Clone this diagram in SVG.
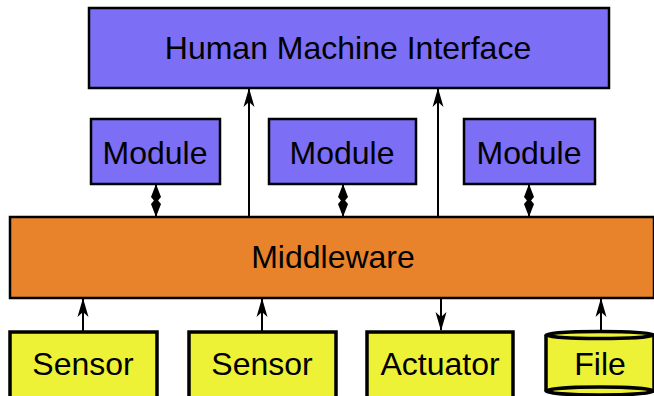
<svg xmlns="http://www.w3.org/2000/svg" width="654" height="396" viewBox="0 0 654 396">
<defs>
<style>
.box{stroke:#000;stroke-width:2.5}
.hmi{fill:#7C6EF5}
.mw{fill:#E8832B}
.dev{fill:#EEF236;stroke:#000;stroke-width:3.5}
.lbl{font-family:"Liberation Sans",Arial,sans-serif;font-size:32px;fill:#000;text-anchor:middle}
.conn{stroke:#000;stroke-width:2;fill:none}
</style>
<marker id="ah" viewBox="0 0 19 12" refX="18" refY="6" markerWidth="19" markerHeight="12" markerUnits="userSpaceOnUse" orient="auto-start-reverse">
<path d="M0,0.5 L19,6 L0,11.5 L5,6 Z" fill="#000"/>
</marker>
<marker id="dh" viewBox="0 0 19 10" refX="18" refY="5" markerWidth="19" markerHeight="10" markerUnits="userSpaceOnUse" orient="auto-start-reverse">
<path d="M0,5 L6,0 L19,5 L6,10 Z" fill="#000"/>
</marker>
</defs>
<rect width="654" height="396" fill="#fff"/>
<g id="hmi">
<rect class="box hmi" x="89" y="8" width="520" height="80"/>
<text class="lbl" x="348" y="59">Human Machine Interface</text>
</g>
<g id="module1">
<rect class="box hmi" x="91" y="119" width="129" height="65"/>
<text class="lbl" x="155" y="164">Module</text>
</g>
<g id="module2">
<rect class="box hmi" x="269" y="119" width="147" height="65"/>
<text class="lbl" x="342" y="164">Module</text>
</g>
<g id="module3">
<rect class="box hmi" x="464" y="119" width="131" height="65"/>
<text class="lbl" x="529" y="164">Module</text>
</g>
<g id="middleware">
<rect class="box mw" x="10" y="217" width="644" height="81"/>
<text class="lbl" x="333" y="268">Middleware</text>
</g>
<g id="sensor1">
<rect class="dev" x="10" y="332" width="147" height="70"/>
<text class="lbl" x="83" y="375">Sensor</text>
</g>
<g id="sensor2">
<rect class="dev" x="189" y="332" width="147" height="70"/>
<text class="lbl" x="262" y="375">Sensor</text>
</g>
<g id="actuator">
<rect class="dev" x="367" y="332" width="146" height="70"/>
<text class="lbl" x="440" y="375">Actuator</text>
</g>
<g id="file">
<path class="dev" d="M546,335 L546,391 A54,4 0 0 0 654,391 L654,335"/>
<ellipse class="dev" cx="600" cy="335" rx="54" ry="3.5"/>
<path d="M546,391 A54,4 0 0 1 654,391" fill="none" stroke="#000" stroke-width="3.5"/>
<text class="lbl" x="600" y="375">File</text>
</g>
<g id="connectors">
<line class="conn" x1="249" y1="217" x2="249" y2="89" marker-end="url(#ah)"/>
<line class="conn" x1="438" y1="217" x2="438" y2="89" marker-end="url(#ah)"/>
<line class="conn" x1="156" y1="185" x2="156" y2="216" marker-start="url(#dh)" marker-end="url(#dh)"/>
<line class="conn" x1="343" y1="185" x2="343" y2="216" marker-start="url(#dh)" marker-end="url(#dh)"/>
<line class="conn" x1="529" y1="185" x2="529" y2="216" marker-start="url(#dh)" marker-end="url(#dh)"/>
<line class="conn" x1="83" y1="331" x2="83" y2="299" marker-end="url(#ah)"/>
<line class="conn" x1="262" y1="331" x2="262" y2="299" marker-end="url(#ah)"/>
<line class="conn" x1="441" y1="299" x2="441" y2="330" marker-end="url(#ah)"/>
<line class="conn" x1="601" y1="332" x2="601" y2="299" marker-end="url(#ah)"/>
</g>
</svg>
